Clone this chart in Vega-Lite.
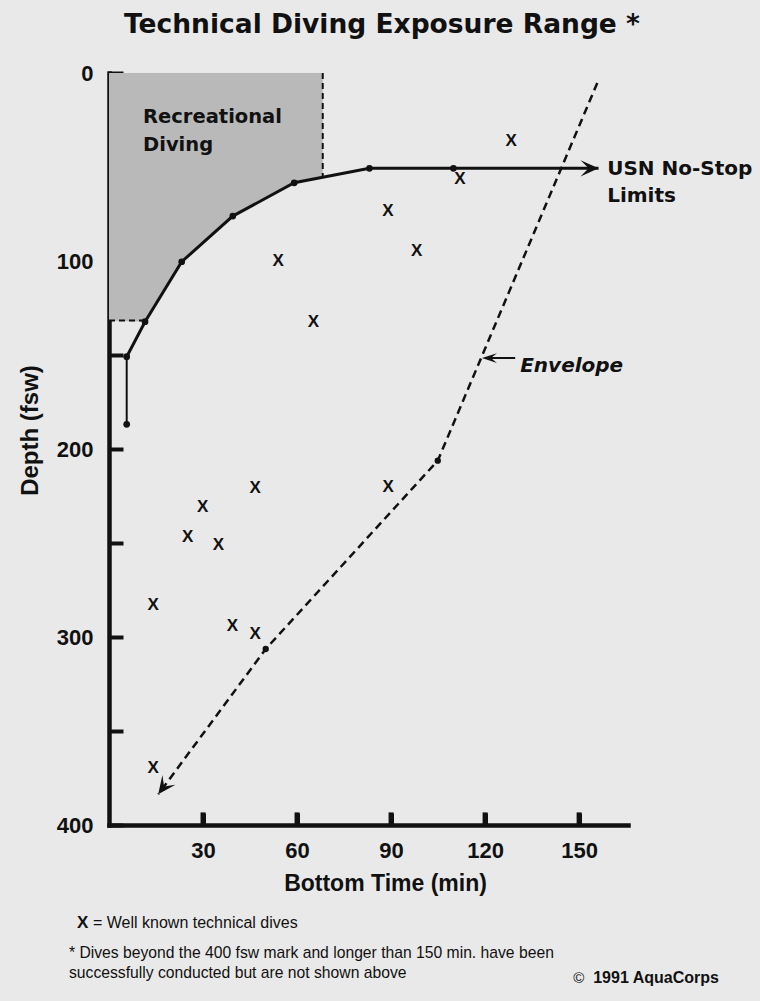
{
  "$schema": "https://vega.github.io/schema/vega-lite/v6.json",
  "width": 519,
  "height": 752,
  "autosize": {"type": "none"},
  "padding": {"left": 109, "top": 73, "right": 132, "bottom": 176},
  "background": "#e9e9e9",
  "title": {
    "text": "Technical Diving Exposure Range *",
    "font": "DejaVu Sans",
    "fontWeight": "bold",
    "fontSize": 26.5,
    "color": "#111111",
    "anchor": "start",
    "frame": "group",
    "dx": 15,
    "offset": 3,
    "baseline": "alphabetic"
  },
  "config": {
    "view": {"stroke": null},
    "axisX": {
      "grid": false,
      "ticks": true,
      "tickSize": -12,
      "tickWidth": 5,
      "tickColor": "#111111",
      "domainColor": "#111111",
      "domainWidth": 4.5,
      "domainCap": "square",
      "labelFont": "Liberation Sans",
      "labelFontWeight": "bold",
      "labelFontSize": 22,
      "labelColor": "#111111",
      "labelPadding": 27,
      "labelFlush": false,
      "labelOverlap": false,
      "titleFont": "Liberation Sans",
      "titleFontWeight": "bold",
      "titleFontSize": 23,
      "titleColor": "#111111",
      "titleX": 276,
      "titleY": 65,
      "titleAlign": "center",
      "titleBaseline": "alphabetic"
    },
    "axisY": {
      "grid": false,
      "ticks": true,
      "tickSize": -14,
      "tickWidth": 4,
      "tickColor": "#111111",
      "domainColor": "#111111",
      "domainWidth": 4.5,
      "domainCap": "square",
      "labelFont": "Liberation Sans",
      "labelFontWeight": "bold",
      "labelFontSize": 22,
      "labelColor": "#111111",
      "labelPadding": 30,
      "labelFlush": false,
      "labelOverlap": false,
      "titleFont": "Liberation Sans",
      "titleFontWeight": "bold",
      "titleFontSize": 24,
      "titleColor": "#111111",
      "titleX": -79,
      "titleY": 357,
      "titleAngle": 270,
      "titleAlign": "center",
      "titleBaseline": "middle"
    }
  },
  "datasets": {
    "recreational": [
      {"time": 0, "depth": 131.7},
      {"time": 11.5, "depth": 132.3},
      {"time": 23.2, "depth": 100.4},
      {"time": 39.5, "depth": 76.1},
      {"time": 59.1, "depth": 58.4},
      {"time": 68.2, "depth": 55.4}
    ],
    "usn": [
      {"time": 5.65, "depth": 186.9},
      {"time": 5.65, "depth": 150.9},
      {"time": 11.5, "depth": 132.3},
      {"time": 23.2, "depth": 100.4},
      {"time": 39.5, "depth": 76.1},
      {"time": 59.1, "depth": 58.4},
      {"time": 83.1, "depth": 50.7},
      {"time": 109.9, "depth": 50.7}
    ],
    "usnArrow": [
      {"time": 109.9, "depth": 50.7},
      {"time": 156.2, "depth": 50.7}
    ],
    "envelope": [
      {"time": 155.8, "depth": 5.3},
      {"time": 104.9, "depth": 206.2},
      {"time": 50.0, "depth": 306.4},
      {"time": 15.7, "depth": 383.7}
    ],
    "dives": [
      {"time": 54.0, "depth": 100.0},
      {"time": 65.2, "depth": 132.3},
      {"time": 89.0, "depth": 73.4},
      {"time": 128.3, "depth": 36.2},
      {"time": 112.0, "depth": 56.4},
      {"time": 98.2, "depth": 94.7},
      {"time": 46.6, "depth": 220.9},
      {"time": 29.9, "depth": 230.7},
      {"time": 89.1, "depth": 220.1},
      {"time": 25.1, "depth": 246.6},
      {"time": 34.9, "depth": 251.1},
      {"time": 14.1, "depth": 283.0},
      {"time": 39.4, "depth": 294.1},
      {"time": 46.6, "depth": 298.6},
      {"time": 14.1, "depth": 369.5}
    ],
    "xTicks": [
      {"time": 30, "depth": 400, "depth2": 393.3},
      {"time": 60, "depth": 400, "depth2": 393.3},
      {"time": 90, "depth": 400, "depth2": 393.3},
      {"time": 120, "depth": 400, "depth2": 393.3},
      {"time": 150, "depth": 400, "depth2": 393.3}
    ]
  },
  "encoding": {
    "x": {"field": "time", "type": "quantitative"},
    "y": {"field": "depth", "type": "quantitative"}
  },
  "layer": [
    {
      "data": {"name": "recreational"},
      "mark": {"type": "area", "color": "#b9b9b9", "opacity": 1},
      "encoding": {
        "x": {
          "field": "time",
          "type": "quantitative",
          "scale": {"domain": [0, 165.6], "nice": false, "zero": false},
          "axis": {"values": [30, 60, 90, 120, 150], "title": "Bottom Time (min)"}
        },
        "y": {
          "field": "depth",
          "type": "quantitative",
          "scale": {"domain": [0, 400], "reverse": true, "nice": false, "zero": false},
          "axis": {
            "values": [0, 50, 100, 150, 200, 250, 300, 350, 400],
            "labelExpr": "datum.value % 100 === 0 ? datum.label : ''",
            "title": "Depth (fsw)"
          }
        },
        "y2": {"datum": 0}
      }
    },
    {
      "data": {"values": [{"time": 68.2, "depth": 0, "depth2": 55.4}]},
      "mark": {"type": "rule", "color": "#111111", "strokeWidth": 2, "strokeDash": [6, 4]},
      "encoding": {"y2": {"field": "depth2"}}
    },
    {
      "data": {"values": [{"time": 0, "time2": 11.5, "depth": 131.7}]},
      "mark": {"type": "rule", "color": "#111111", "strokeWidth": 2, "strokeDash": [6, 4]},
      "encoding": {"x2": {"field": "time2"}}
    },
    {
      "data": {"name": "usn"},
      "transform": [{"filter": "datum.depth < 160"}],
      "mark": {"type": "line", "color": "#111111", "strokeWidth": 3}
    },
    {
      "data": {"name": "usn"},
      "transform": [{"filter": "datum.time < 6"}],
      "mark": {"type": "line", "color": "#111111", "strokeWidth": 2},
      "encoding": {"order": {"field": "depth"}}
    },
    {
      "data": {"name": "usnArrow"},
      "mark": {"type": "line", "color": "#111111", "strokeWidth": 3}
    },
    {
      "data": {"name": "usnArrow"},
      "transform": [{"filter": "datum.time > 150"}],
      "mark": {"type": "point", "shape": "M0,0 L-2,-0.9 L-1.1,0 L-2,0.9 Z", "size": 324, "filled": true, "color": "#111111", "opacity": 1}
    },
    {
      "data": {"name": "usn"},
      "mark": {"type": "circle", "size": 45, "color": "#111111", "opacity": 1}
    },
    {
      "data": {"name": "envelope"},
      "mark": {"type": "line", "color": "#111111", "strokeWidth": 2.5, "strokeDash": [8, 5]},
      "encoding": {"order": {"field": "depth"}}
    },
    {
      "data": {"name": "envelope"},
      "transform": [{"filter": "datum.depth > 100 && datum.depth < 350"}],
      "mark": {"type": "circle", "size": 40, "color": "#111111", "opacity": 1}
    },
    {
      "data": {"name": "envelope"},
      "transform": [{"filter": "datum.depth > 350"}],
      "mark": {"type": "point", "shape": "M0,0 L-2,-0.9 L-1.1,0 L-2,0.9 Z", "size": 324, "angle": 126.5, "filled": true, "color": "#111111", "opacity": 1}
    },
    {
      "data": {"name": "dives"},
      "mark": {"type": "text", "text": "X", "font": "Liberation Sans", "fontWeight": "bold", "fontSize": 17, "color": "#111111", "align": "center", "baseline": "middle"}
    },
    {
      "data": {"values": [{"time": 129.6, "time2": 121.0, "depth": 151.6}]},
      "mark": {"type": "rule", "color": "#111111", "strokeWidth": 2},
      "encoding": {"x2": {"field": "time2"}}
    },
    {
      "data": {"values": [{"time": 119.0, "depth": 151.6}]},
      "mark": {"type": "point", "shape": "M0,0 L-2,-0.65 L-1.2,0 L-2,0.65 Z", "size": 225, "angle": 180, "filled": true, "color": "#111111", "opacity": 1}
    },
    {
      "data": {"values": [{"time": 10.85, "depth": 26.8}]},
      "mark": {"type": "text", "text": ["Recreational", "Diving"], "font": "DejaVu Sans", "fontWeight": "bold", "fontSize": 19.5, "lineHeight": 28, "color": "#111111", "align": "left", "baseline": "alphabetic"}
    },
    {
      "data": {"values": [{"time": 158.95, "depth": 54.3}]},
      "mark": {"type": "text", "text": ["USN No-Stop", "Limits"], "font": "DejaVu Sans", "fontWeight": "bold", "fontSize": 20, "lineHeight": 27, "color": "#111111", "align": "left", "baseline": "alphabetic"}
    },
    {
      "data": {"values": [{"time": 131.2, "depth": 159.0}]},
      "mark": {"type": "text", "text": "Envelope", "font": "DejaVu Sans", "fontWeight": "bold", "fontStyle": "italic", "fontSize": 20, "color": "#111111", "align": "left", "baseline": "alphabetic"}
    },
    {
      "data": {"values": [{"time": -10.21, "depth": 454.8}]},
      "mark": {"type": "text", "text": "X", "font": "Liberation Sans", "fontWeight": "bold", "fontSize": 17, "color": "#111111", "align": "left", "baseline": "alphabetic"}
    },
    {
      "data": {"values": [{"time": -5.11, "depth": 454.8}]},
      "mark": {"type": "text", "text": "=  Well known technical dives", "font": "Liberation Sans", "fontSize": 16, "color": "#111111", "align": "left", "baseline": "alphabetic"}
    },
    {
      "data": {"values": [{"time": -12.77, "depth": 470.7}]},
      "mark": {"type": "text", "text": ["* Dives beyond the 400 fsw mark and longer than 150 min. have been", "successfully conducted but are not shown above"], "font": "Liberation Sans", "fontSize": 15.7, "lineHeight": 20.5, "color": "#111111", "align": "left", "baseline": "alphabetic"}
    },
    {
      "data": {"values": [{"time": 148.1, "depth": 484.0}]},
      "mark": {"type": "text", "text": "©", "font": "Liberation Sans", "fontSize": 15, "color": "#111111", "align": "left", "baseline": "alphabetic"}
    },
    {
      "data": {"values": [{"time": 154.5, "depth": 484.0}]},
      "mark": {"type": "text", "text": "1991 AquaCorps", "font": "Liberation Sans", "fontWeight": "bold", "fontSize": 16, "color": "#111111", "align": "left", "baseline": "alphabetic"}
    },
    {
      "data": {"name": "xTicks"},
      "mark": {"type": "rule", "color": "#111111", "strokeWidth": 5},
      "encoding": {"y2": {"field": "depth2"}}
    }
  ]
}
